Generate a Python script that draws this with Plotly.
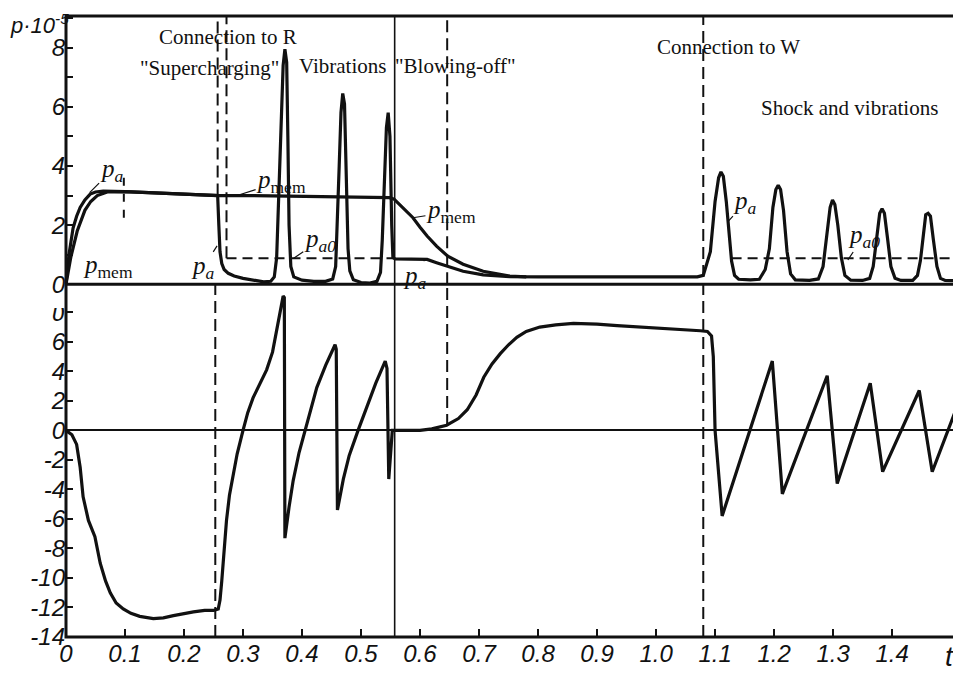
import plotly.graph_objects as go

# ---------------- data ----------------
# upper panel: pressure p*10^-5 versus t
pa_t = [0, 0.005, 0.012, 0.018, 0.024, 0.032, 0.041, 0.05, 0.063, 0.08, 0.1, 0.15, 0.2, 0.25, 0.257,
        0.259, 0.261, 0.264, 0.268, 0.275, 0.285, 0.3, 0.32, 0.335, 0.347, 0.353, 0.357, 0.36, 0.364,
        0.368, 0.371, 0.374, 0.376, 0.378, 0.381, 0.386, 0.4, 0.42, 0.44, 0.452, 0.457, 0.46, 0.463,
        0.466, 0.469, 0.472, 0.475, 0.478, 0.481, 0.487, 0.5, 0.515, 0.527, 0.533, 0.536, 0.539, 0.543,
        0.546, 0.549, 0.552, 0.554, 0.558, 0.58, 0.612, 0.628, 0.647, 0.673, 0.707, 0.752, 0.8, 0.9,
        1.0, 1.07, 1.08, 1.085, 1.092, 1.1, 1.106, 1.11, 1.114, 1.119, 1.124, 1.128, 1.133, 1.14,
        1.16, 1.175, 1.185, 1.192, 1.198, 1.203, 1.207, 1.211, 1.216, 1.222, 1.228, 1.236, 1.26,
        1.275, 1.283, 1.289, 1.295, 1.299, 1.303, 1.308, 1.314, 1.32, 1.33, 1.35, 1.362, 1.368,
        1.374, 1.379, 1.383, 1.387, 1.392, 1.398, 1.405, 1.415, 1.435, 1.443, 1.448, 1.453, 1.457,
        1.461, 1.465, 1.47, 1.476, 1.482, 1.49, 1.51]
pa_p = [0, 1.0, 1.9, 2.3, 2.6, 2.85, 3.05, 3.12, 3.15, 3.15, 3.13, 3.09, 3.05, 3.01, 3.0,
        2.0, 1.1, 0.7, 0.5, 0.37, 0.28, 0.2, 0.12, 0.08, 0.1, 0.25, 0.9, 2.5, 5.0,
        7.4, 7.95, 7.5, 5.0, 2.0, 0.6, 0.25, 0.14, 0.1, 0.1, 0.18, 0.6, 2.0, 4.0,
        5.8, 6.45, 6.1, 3.8, 1.2, 0.45, 0.15, 0.06, 0.04, 0.1, 0.4, 1.5, 3.5, 5.3,
        5.8, 5.0, 2.0, 0.9, 0.86, 0.86, 0.84, 0.73, 0.61, 0.44, 0.32, 0.26, 0.25, 0.24,
        0.24, 0.25, 0.3, 0.6, 1.1, 2.8, 3.6, 3.8, 3.65, 2.8, 1.5, 0.78, 0.3, 0.17,
        0.15, 0.17, 0.5, 1.2, 2.6, 3.2, 3.35, 3.2, 2.5, 1.1, 0.35, 0.15, 0.13,
        0.18, 0.6, 1.5, 2.6, 2.85, 2.7, 2.0, 0.9, 0.3, 0.14, 0.13, 0.2, 0.6,
        1.6, 2.4, 2.55, 2.4, 1.6, 0.6, 0.2, 0.13, 0.13, 0.3, 0.8, 1.8, 2.35,
        2.4, 2.3, 1.5, 0.6, 0.2, 0.13, 0.12]

pm_t = [0, 0.008, 0.019, 0.026, 0.032, 0.042, 0.053, 0.07, 0.1, 0.15, 0.2, 0.26, 0.3, 0.4, 0.5,
        0.548, 0.556, 0.565, 0.575, 0.588, 0.6, 0.612, 0.628, 0.647, 0.673, 0.707, 0.752, 0.78]
pm_p = [0, 0.9, 1.8, 2.2, 2.5, 2.8, 3.0, 3.12, 3.13, 3.09, 3.05, 3.0, 3.0, 2.98, 2.95,
        2.93, 2.88, 2.7, 2.5, 2.25, 1.93, 1.63, 1.29, 0.95, 0.68, 0.44, 0.28, 0.25]

pa0_t = [0.272, 0.553, None, 1.128, 1.51]
pa0_p = [0.88, 0.88, None, 0.88, 0.88]

# lower panel: velocity v versus t
v_t = [0, 0.01, 0.018, 0.024, 0.029, 0.038, 0.049, 0.058, 0.067, 0.075, 0.085, 0.097, 0.11, 0.125,
       0.148, 0.165, 0.182, 0.2, 0.216, 0.235, 0.25, 0.258, 0.261, 0.264, 0.268, 0.272, 0.277, 0.283,
       0.29, 0.3, 0.308, 0.317, 0.328, 0.34, 0.35, 0.357, 0.362, 0.366, 0.368, 0.37, 0.371, 0.378,
       0.385, 0.395, 0.405, 0.415, 0.425, 0.44, 0.456, 0.458, 0.46, 0.47, 0.48, 0.495, 0.51, 0.525,
       0.541, 0.544, 0.547, 0.55, 0.553, 0.6, 0.62, 0.645, 0.665, 0.68, 0.695, 0.708, 0.722, 0.736,
       0.75, 0.764, 0.78, 0.803, 0.83, 0.86, 0.9, 0.934, 0.98, 1.02, 1.05, 1.075, 1.087, 1.094,
       1.097, 1.1, 1.112, 1.197, 1.214, 1.29, 1.307, 1.363, 1.384, 1.446, 1.468, 1.51]
v_v = [0, -0.3, -0.95, -2.5, -4.5, -6.1, -7.2, -9.0, -10.2, -11.0, -11.7, -12.1, -12.4, -12.6,
       -12.75, -12.7, -12.55, -12.4, -12.3, -12.2, -12.2, -12.1, -11.5, -10.2, -8.2, -6.1, -4.4, -3.0,
       -1.6, 0, 1.2, 2.2, 3.1, 4.1, 5.3, 6.8, 8.0, 8.9, 9.1, 9.0, -7.3, -5.2,
       -3.4, -1.5, 0, 1.5, 2.9, 4.4, 5.8, 5.5, -5.4, -3.3, -1.7, 0, 1.6, 3.2,
       4.7, 4.2, -3.3, -1.5, 0, 0, 0.1, 0.35, 0.8, 1.4, 2.4, 3.6, 4.5, 5.2,
       5.8, 6.3, 6.7, 7.0, 7.15, 7.25, 7.2, 7.1, 7.0, 6.9, 6.85, 6.75, 6.7, 6.4,
       5.0, 0, -5.8, 4.7, -4.3, 3.7, -3.6, 3.2, -2.8, 2.7, -2.8, 1.6]

# event lines (t)
t_conn_R = [0.257, 0.272]
t_blow = 0.557
t_blow_end = 0.646
t_conn_W = 1.08
t_mark = 0.098

p_ticks = [0, 1, 2, 3, 4, 5, 6, 7, 8, 9]
p_ticktext = ["0", "", "2", "", "4", "", "6", "", "8", ""]
v_ticks = [-14, -12, -10, -8, -6, -4, -2, 0, 2, 4, 6, 8]
v_ticktext = ["-14", "-12", "-10", "-8", "-6", "-4", "-2", "0", "2", "4", "6", "υ"]
t_ticks = [0, 0.1, 0.2, 0.3, 0.4, 0.5, 0.6, 0.7, 0.8, 0.9, 1.0, 1.1, 1.2, 1.3, 1.4]
t_ticktext = ["0", "0.1", "0.2", "0.3", "0.4", "0.5", "0.6", "0.7", "0.8", "0.9", "1.0",
              "1.1", "1.2", "1.3", "1.4"]
t_axis_label = "t"

def ital(lst):
    return ["<i>%s</i>" % s if s else "" for s in lst]

# ---------------- figure ----------------
SPLIT = 0.568
black = "#111111"
lw = 3.2

fig = go.Figure()
fig.add_trace(go.Scatter(x=pa_t, y=pa_p, mode="lines", line=dict(color=black, width=lw),
                         xaxis="x", yaxis="y", showlegend=False, name="p_a"))
fig.add_trace(go.Scatter(x=pm_t, y=pm_p, mode="lines", line=dict(color=black, width=lw),
                         xaxis="x", yaxis="y", showlegend=False, name="p_mem"))
fig.add_trace(go.Scatter(x=pa0_t, y=pa0_p, mode="lines",
                         line=dict(color=black, width=2, dash="10px,6px"),
                         xaxis="x", yaxis="y", showlegend=False, name="p_a0"))
fig.add_trace(go.Scatter(x=v_t, y=v_v, mode="lines", line=dict(color=black, width=lw),
                         xaxis="x", yaxis="y2", showlegend=False, name="v"))

shapes = []
dash = "12px,6px"
shapes.append(dict(type="rect", xref="paper", yref="paper", x0=0, x1=1, y0=0, y1=1,
                   line=dict(color=black, width=3)))
shapes.append(dict(type="line", xref="paper", yref="paper", x0=0, x1=1, y0=SPLIT, y1=SPLIT,
                   line=dict(color=black, width=3)))
shapes.append(dict(type="line", xref="x", yref="y", x0=t_conn_R[0], x1=t_conn_R[0], y0=3.0, y1=9.07,
                   line=dict(color=black, width=2, dash=dash)))
shapes.append(dict(type="line", xref="x", yref="y2", x0=t_conn_R[0] - 0.004, x1=t_conn_R[0] - 0.004,
                   y0=-14, y1=9.9, line=dict(color=black, width=2, dash=dash)))
shapes.append(dict(type="line", xref="x", yref="y", x0=t_conn_R[1], x1=t_conn_R[1], y0=0.88, y1=9.07,
                   line=dict(color=black, width=2, dash=dash)))
shapes.append(dict(type="line", xref="x", yref="paper", x0=t_blow, x1=t_blow, y0=0, y1=1,
                   line=dict(color=black, width=1.6)))
shapes.append(dict(type="line", xref="x", yref="y", x0=t_blow_end, x1=t_blow_end, y0=0, y1=9.07,
                   line=dict(color=black, width=2, dash=dash)))
shapes.append(dict(type="line", xref="x", yref="y2", x0=t_blow_end, x1=t_blow_end, y0=0.3, y1=9.9,
                   line=dict(color=black, width=2, dash=dash)))
shapes.append(dict(type="line", xref="x", yref="paper", x0=t_conn_W, x1=t_conn_W, y0=0, y1=1,
                   line=dict(color=black, width=2, dash=dash)))
shapes.append(dict(type="line", xref="x", yref="y", x0=t_mark, x1=t_mark, y0=2.25, y1=3.75,
                   line=dict(color=black, width=2, dash="8px,8px")))

serif = "Liberation Serif"
sans = "Liberation Sans"
txt_font = dict(family=serif, size=21, color=black)
lab_font = dict(family=serif, size=25, color=black)

ann = []
def text(t, p, s, yref="y", font=txt_font, **kw):
    ann.append(dict(x=t, y=p, xref="x", yref=yref, text=s, showarrow=False, font=font, **kw))

text(0.275, 8.36, "Connection to R")
text(0.243, 7.3, "\"Supercharging\"")
text(0.468, 7.38, "Vibrations")
text(0.66, 7.38, "\"Blowing-off\"")
text(1.122, 8.03, "Connection to W")
text(1.327, 5.97, "Shock and vibrations")

def label(t, p, s, ax, ay):
    ann.append(dict(x=t, y=p, xref="x", yref="y", text=s, showarrow=True, arrowhead=0,
                    arrowwidth=1.2, arrowcolor=black, ax=ax, ay=ay, font=lab_font,
                    standoff=0, borderpad=0))

PA = "<i>p<sub>a</sub></i>"
PM = "<i>p</i><sub>mem</sub>"
PA0 = "<i>p<sub>a0</sub></i>"
label(0.040, 3.1, PA, 22, -22)
text(0.072, 0.6, PM, font=lab_font)
label(0.256, 1.3, PA, -14, 22)
label(0.29, 3.0, PM, 44, -14)
label(0.386, 0.88, PA0, 26, -18)
label(0.588, 2.25, PM, 38, -6)
label(0.608, 0.85, PA, -10, 18)
label(1.121, 2.1, PA, 18, -20)
label(1.325, 0.82, PA0, 16, -24)

# axis titles drawn as text
ann.append(dict(x=-0.065, y=0.987, xref="paper", yref="paper", xanchor="left", yanchor="middle",
                text="<i>p·10<sup>-5</sup></i>", showarrow=False,
                font=dict(family=sans, size=22, color=black)))
ann.append(dict(x=1.497, y=0, xref="x", yref="paper", yanchor="top", yshift=-2,
                text="<i>%s</i>" % t_axis_label, showarrow=False,
                font=dict(family=sans, size=28, color=black)))

tickfont = dict(family=sans, size=24, color=black)

# the page adds an 8px body margin, so the figure is 8px smaller and margins are reduced
fig.update_layout(
    width=953, height=667, autosize=False,
    margin=dict(l=58, r=4, t=8, b=38, autoexpand=False),
    paper_bgcolor="white", plot_bgcolor="white",
    xaxis=dict(range=[0, 1.51], anchor="y2", tickvals=t_ticks, ticktext=ital(t_ticktext),
               ticks="inside", ticklen=8, tickwidth=2, tickcolor=black, showgrid=False,
               zeroline=False, showline=False, tickfont=tickfont, automargin=False),
    yaxis=dict(domain=[SPLIT, 1], range=[0, 9.07], anchor="x", tickvals=p_ticks,
               ticktext=ital(p_ticktext), ticks="inside", ticklen=7, tickwidth=2, tickcolor=black,
               showgrid=False, zeroline=False, showline=False, tickfont=tickfont, automargin=False),
    yaxis2=dict(domain=[0, SPLIT], range=[-14, 9.9], anchor="x", tickvals=v_ticks,
                ticktext=ital(v_ticktext), ticks="inside", ticklen=7, tickwidth=2, tickcolor=black,
                showgrid=False, zeroline=True, zerolinecolor=black, zerolinewidth=2.2,
                showline=False, tickfont=tickfont, automargin=False),
    shapes=shapes, annotations=ann,
)

fig.write_html("out.html")
